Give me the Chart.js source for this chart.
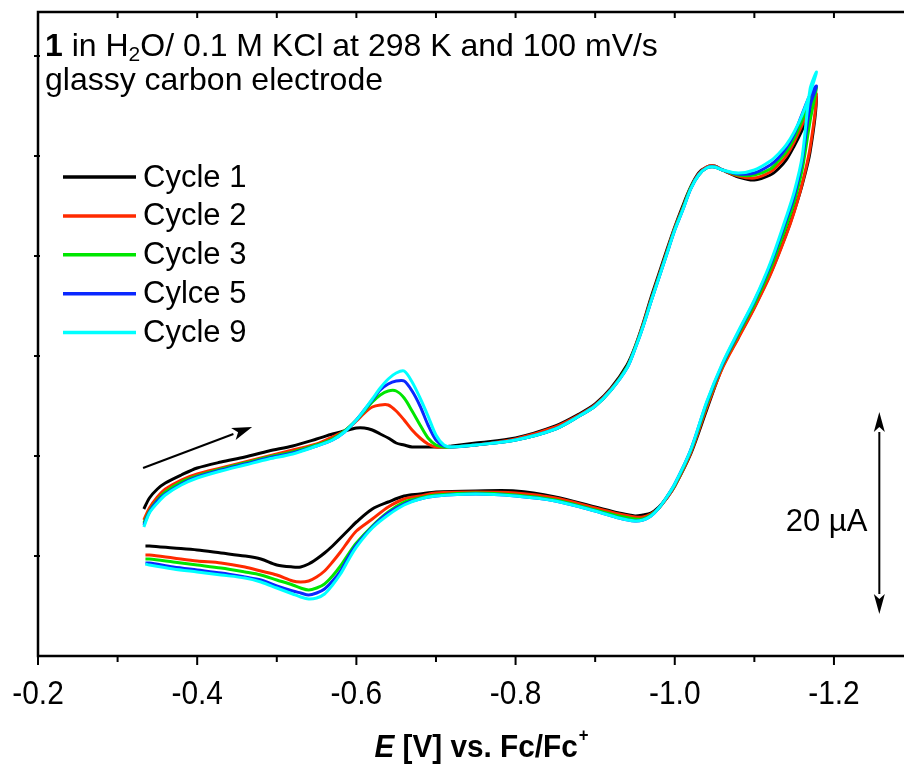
<!DOCTYPE html>
<html>
<head>
<meta charset="utf-8">
<title>CV cycles</title>
<script src="https://cdn.jsdelivr.net/npm/chart.js@4.4.1/dist/chart.umd.min.js"></script>
<style>
  html, body { margin: 0; padding: 0; background: #fff; }
  #wrap { width: 904px; height: 776px; }
</style>
</head>
<body>
<div id="wrap"><canvas id="cv" width="904" height="776"></canvas></div>
<script>
// potential grid (V vs Fc/Fc+): forward (cathodic) sweep, then the way back
const fwdE = [-0.333, -0.34, -0.35, -0.36, -0.38, -0.40, -0.43, -0.46, -0.49, -0.52,
  -0.55, -0.57, -0.585, -0.60, -0.61, -0.62, -0.63, -0.64, -0.65, -0.66,
  -0.67, -0.68, -0.69, -0.70, -0.71, -0.72, -0.75, -0.80, -0.85, -0.88,
  -0.90, -0.92, -0.94, -0.95, -0.96, -0.97, -0.98, -0.99, -1.00, -1.01,
  -1.02, -1.03, -1.04, -1.05, -1.06, -1.08, -1.10, -1.12, -1.13, -1.14,
  -1.15, -1.16, -1.17, -1.178];
const revE = [-1.17, -1.16, -1.15, -1.14, -1.12, -1.10, -1.08, -1.06, -1.04, -1.02,
  -1.00, -0.99, -0.98, -0.97, -0.96, -0.95, -0.93, -0.90, -0.85, -0.80,
  -0.75, -0.70, -0.68, -0.66, -0.64, -0.62, -0.60, -0.59, -0.58, -0.57,
  -0.56, -0.55, -0.54, -0.53, -0.52, -0.50, -0.48, -0.46, -0.43, -0.40,
  -0.37, -0.34, -0.335];

// current (uA, arbitrary offset) per cycle
const cycle1Fwd = [14.7, 15.8, 16.7, 17.3, 18.1, 18.8, 19.4, 19.9, 20.5, 21.0,
  21.7, 22.2, 22.5, 22.8, 22.8, 22.6, 22.2, 21.8, 21.3, 21.1,
  20.9, 20.9, 20.9, 20.9, 20.9, 21.0, 21.3, 21.8, 23.0, 24.2,
  25.2, 26.8, 29.1, 30.9, 33.2, 35.8, 38.2, 40.6, 42.9, 45.0,
  46.9, 48.3, 48.9, 49.0, 48.6, 47.9, 47.6, 48.1, 48.7, 49.6,
  51.0, 52.6, 54.4, 55.9];
const cycle1Rev = [50.4, 47.1, 44.5, 42.2, 38.2, 34.9, 31.9, 28.9, 24.6, 20.2,
  17.0, 15.8, 14.9, 14.3, 14.1, 14.0, 14.3, 14.9, 15.9, 16.5,
  16.5, 16.4, 16.2, 16.0, 15.4, 14.7, 13.4, 12.6, 11.8, 11.0,
  10.3, 9.7, 9.2, 8.9, 8.9, 9.1, 9.7, 10.0, 10.3, 10.6,
  10.8, 11.0, 11.0];

const cycle2Fwd = [13.6, 14.8, 15.9, 16.7, 17.6, 18.2, 18.8, 19.4, 20.0, 20.6,
  21.2, 21.9, 22.5, 23.5, 24.3, 24.9, 25.1, 25.1, 24.5, 23.6,
  22.6, 21.8, 21.2, 20.9, 20.9, 20.9, 21.1, 21.7, 22.9, 24.1,
  25.1, 26.7, 28.9, 30.8, 33.1, 35.6, 38.0, 40.4, 42.8, 44.8,
  46.8, 48.2, 48.9, 49.0, 48.6, 48.0, 47.8, 48.4, 49.1, 50.0,
  51.4, 53.1, 54.9, 56.2];
const cycle2Rev = [50.8, 47.2, 44.4, 42.1, 38.1, 34.8, 31.8, 28.8, 24.8, 20.3,
  17.0, 15.8, 14.8, 14.2, 13.9, 13.9, 14.2, 14.8, 15.8, 16.3,
  16.4, 16.3, 16.0, 15.7, 14.9, 13.7, 12.5, 11.5, 10.4, 9.4,
  8.5, 7.9, 7.5, 7.4, 7.5, 8.1, 8.5, 8.9, 9.3, 9.5,
  9.8, 10.1, 10.1];

const cycle3Fwd = [13.3, 14.5, 15.6, 16.4, 17.4, 18.0, 18.7, 19.3, 19.9, 20.4,
  21.1, 21.7, 22.5, 23.6, 24.5, 25.4, 26.1, 26.5, 26.5, 25.8,
  24.5, 23.1, 21.8, 21.1, 20.9, 20.9, 21.1, 21.6, 22.7, 24.0,
  25.0, 26.6, 28.9, 30.8, 33.0, 35.5, 37.9, 40.3, 42.7, 44.7,
  46.8, 48.1, 48.8, 48.9, 48.6, 48.1, 48.1, 48.7, 49.5, 50.4,
  51.8, 53.6, 55.5, 56.9];
const cycle3Rev = [53.5, 48.6, 45.4, 43.0, 38.7, 35.2, 32.2, 29.1, 25.1, 20.5,
  17.1, 15.9, 14.8, 14.1, 13.7, 13.7, 14.0, 14.6, 15.6, 16.1,
  16.3, 16.1, 15.8, 15.4, 14.4, 13.0, 11.3, 10.2, 9.0, 8.0,
  7.2, 6.8, 6.6, 6.8, 7.1, 7.6, 8.1, 8.4, 8.8, 9.1,
  9.4, 9.7, 9.7];

const cycle5Fwd = [13.1, 14.4, 15.5, 16.2, 17.2, 17.9, 18.6, 19.2, 19.8, 20.3,
  21.0, 21.6, 22.4, 23.6, 24.6, 25.6, 26.6, 27.2, 27.5, 27.5,
  26.5, 25.0, 23.1, 21.6, 21.0, 20.9, 21.1, 21.6, 22.7, 24.0,
  25.0, 26.6, 28.8, 30.7, 32.9, 35.4, 37.8, 40.2, 42.6, 44.6,
  46.7, 48.1, 48.8, 48.9, 48.6, 48.2, 48.3, 49.1, 49.8, 50.8,
  52.2, 54.2, 56.1, 57.0];
const cycle5Rev = [55.0, 49.5, 46.0, 43.6, 39.1, 35.5, 32.4, 29.2, 25.3, 20.6,
  17.2, 15.9, 14.8, 14.0, 13.6, 13.5, 13.8, 14.5, 15.5, 16.0,
  16.2, 16.0, 15.7, 15.2, 14.3, 12.9, 11.1, 9.9, 8.5, 7.5,
  6.7, 6.3, 6.1, 6.3, 6.5, 7.0, 7.6, 7.9, 8.3, 8.6,
  8.9, 9.3, 9.3];

const cycle9Fwd = [12.9, 14.3, 15.3, 16.1, 17.1, 17.8, 18.5, 19.1, 19.7, 20.2,
  21.0, 21.6, 22.4, 23.6, 24.6, 25.7, 26.8, 27.7, 28.3, 28.5,
  27.4, 25.8, 24.0, 22.1, 21.1, 20.9, 21.1, 21.6, 22.7, 24.0,
  25.0, 26.6, 28.8, 30.7, 32.9, 35.4, 37.8, 40.2, 42.6, 44.6,
  46.7, 48.1, 48.8, 48.9, 48.6, 48.3, 48.6, 49.5, 50.2, 51.1,
  52.4, 54.1, 56.3, 58.4];
const cycle9Rev = [56.7, 49.9, 46.4, 43.9, 39.3, 35.6, 32.5, 29.3, 25.4, 20.6,
  17.2, 15.9, 14.8, 14.0, 13.6, 13.5, 13.8, 14.5, 15.5, 16.0,
  16.2, 16.0, 15.7, 15.1, 14.1, 12.8, 10.9, 9.6, 8.2, 7.1,
  6.2, 5.8, 5.7, 5.9, 6.2, 6.8, 7.4, 7.8, 8.1, 8.4,
  8.7, 9.1, 9.2];

const cycleLabels = ['Cycle 1', 'Cycle 2', 'Cycle 3', 'Cylce 5', 'Cycle 9'];
const cycleColors = ['#000000', '#ff2a00', '#00e600', '#0a28ff', '#00ffff'];
const cycleFwd = [cycle1Fwd, cycle2Fwd, cycle3Fwd, cycle5Fwd, cycle9Fwd];
const cycleRev = [cycle1Rev, cycle2Rev, cycle3Rev, cycle5Rev, cycle9Rev];

const xMajor = [-0.2, -0.4, -0.6, -0.8, -1.0, -1.2];
const xMinor = [-0.3, -0.5, -0.7, -0.9, -1.1];
const yTicks = [10, 20, 30, 40, 50, 60];

// sweep direction arrow and 20 uA scale bar, in data units
const sweepArrow = { from: [-0.332, 18.8], to: [-0.469, 22.9] };
const scaleBar = { e: -1.257, lo: 4.2, hi: 24.4, label: '20 \u00b5A' };

function toPoints(fwd, rev) {
  const pts = fwdE.map((e, i) => ({ x: e, y: fwd[i] }));
  return pts.concat(revE.map((e, i) => ({ x: e, y: rev[i] })));
}

function arrowLine(ctx, x1, y1, x2, y2, head, half) {
  const ang = Math.atan2(y2 - y1, x2 - x1);
  const bx = x2 - head * Math.cos(ang), by = y2 - head * Math.sin(ang);
  ctx.beginPath();
  ctx.moveTo(x1, y1);
  ctx.lineTo(bx, by);
  ctx.stroke();
  ctx.beginPath();
  ctx.moveTo(x2, y2);
  ctx.lineTo(bx + half * Math.sin(ang), by - half * Math.cos(ang));
  ctx.lineTo(x2 - head * 0.75 * Math.cos(ang), y2 - head * 0.75 * Math.sin(ang));
  ctx.lineTo(bx - half * Math.sin(ang), by + half * Math.cos(ang));
  ctx.closePath();
  ctx.fill();
}

// condensed text: draw with a horizontal squeeze
function squeezed(ctx, text, x, y, sx) {
  ctx.save();
  ctx.translate(x, y);
  ctx.scale(sx, 1);
  ctx.fillText(text, 0, 0);
  ctx.restore();
}

const SANS = '"Liberation Sans", Arial, sans-serif';

// frame, ticks, labels, legend and notes
const decorations = {
  id: 'decorations',
  afterDraw(chart) {
    const { ctx, chartArea: a, scales: { x, y } } = chart;
    ctx.save();
    ctx.strokeStyle = '#000';
    ctx.fillStyle = '#000';

    // frame (right side is cut off in the original)
    ctx.lineWidth = 2.5;
    ctx.beginPath();
    ctx.moveTo(a.right, a.top);
    ctx.lineTo(a.left, a.top);
    ctx.lineTo(a.left, a.bottom);
    ctx.lineTo(a.right, a.bottom);
    ctx.stroke();

    // ticks
    ctx.lineWidth = 2;
    ctx.beginPath();
    xMajor.forEach(v => {
      const px = x.getPixelForValue(v);
      ctx.moveTo(px, a.bottom); ctx.lineTo(px, a.bottom + 9);
      if (v !== -0.2) { ctx.moveTo(px, a.top); ctx.lineTo(px, a.top + 6); }
    });
    xMinor.forEach(v => {
      const px = x.getPixelForValue(v);
      ctx.moveTo(px, a.bottom); ctx.lineTo(px, a.bottom + 6);
      ctx.moveTo(px, a.top); ctx.lineTo(px, a.top + 6);
    });
    yTicks.forEach(v => {
      const py = y.getPixelForValue(v);
      ctx.moveTo(a.left - 4, py); ctx.lineTo(a.left + 2, py);
    });
    ctx.stroke();

    // tick labels
    ctx.font = '34px ' + SANS;
    ctx.textAlign = 'center';
    ctx.textBaseline = 'alphabetic';
    xMajor.forEach(v => {
      squeezed(ctx, v.toFixed(1), x.getPixelForValue(v), 704, 0.88);
    });

    // axis title: E [V] vs. Fc/Fc+
    const sq = 0.93;
    const t1 = 'E', t2 = ' [V] vs. Fc/Fc', t3 = '+';
    ctx.textAlign = 'left';
    ctx.font = 'italic bold 32px ' + SANS;
    const w1 = ctx.measureText(t1).width * sq;
    ctx.font = 'bold 32px ' + SANS;
    const w2 = ctx.measureText(t2).width * sq;
    ctx.font = 'bold 18px ' + SANS;
    const w3 = ctx.measureText(t3).width * sq;
    let tx = 481 - (w1 + w2 + w3) / 2;
    const ty = 757;
    ctx.font = 'italic bold 32px ' + SANS;
    squeezed(ctx, t1, tx, ty, sq); tx += w1;
    ctx.font = 'bold 32px ' + SANS;
    squeezed(ctx, t2, tx, ty, sq); tx += w2;
    ctx.font = 'bold 18px ' + SANS;
    squeezed(ctx, t3, tx + 1, ty - 16, sq);

    // header text
    let hx = a.left + 7;
    const hy = a.top + 44;
    ctx.font = 'bold 32px ' + SANS;
    ctx.fillText('1', hx, hy); hx += ctx.measureText('1').width;
    ctx.font = '32px ' + SANS;
    ctx.fillText(' in H', hx, hy); hx += ctx.measureText(' in H').width;
    ctx.font = '21px ' + SANS;
    ctx.fillText('2', hx, hy + 5); hx += ctx.measureText('2').width;
    ctx.font = '32px ' + SANS;
    ctx.fillText('O/ 0.1 M KCl at 298 K and 100 mV/s', hx, hy);
    ctx.fillText('glassy carbon electrode', a.left + 7, hy + 34);

    // legend
    ctx.font = '31px ' + SANS;
    ctx.textBaseline = 'middle';
    cycleLabels.forEach((lab, i) => {
      const ly = 177 + i * 38.9;
      ctx.strokeStyle = cycleColors[i];
      ctx.lineWidth = 3.5;
      ctx.beginPath();
      ctx.moveTo(63, ly); ctx.lineTo(136, ly);
      ctx.stroke();
      ctx.fillStyle = '#000';
      ctx.fillText(lab, 143, ly + 1);
    });

    // sweep arrow
    ctx.strokeStyle = '#000';
    ctx.fillStyle = '#000';
    ctx.lineWidth = 2;
    arrowLine(ctx,
      x.getPixelForValue(sweepArrow.from[0]), y.getPixelForValue(sweepArrow.from[1]),
      x.getPixelForValue(sweepArrow.to[0]), y.getPixelForValue(sweepArrow.to[1]), 20, 6.5);

    // 20 uA scale bar
    const sx = x.getPixelForValue(scaleBar.e);
    const sTop = y.getPixelForValue(scaleBar.hi), sBot = y.getPixelForValue(scaleBar.lo);
    const sMid = (sTop + sBot) / 2;
    arrowLine(ctx, sx, sMid, sx, sTop, 20, 5.5);
    arrowLine(ctx, sx, sMid, sx, sBot, 20, 5.5);
    ctx.font = '31px ' + SANS;
    ctx.textAlign = 'right';
    ctx.fillText(scaleBar.label, sx - 12, sMid + 9);

    ctx.restore();
  }
};

new Chart(document.getElementById('cv'), {
  type: 'line',
  data: {
    datasets: cycleLabels.map((lab, i) => ({
      label: lab,
      data: toPoints(cycleFwd[i], cycleRev[i]),
      borderColor: cycleColors[i],
      backgroundColor: cycleColors[i],
      borderWidth: 3,
      pointRadius: 0,
      tension: 0.3,
      fill: false,
      order: cycleLabels.length - i   // cycle 9 ends up on top
    }))
  },
  options: {
    responsive: false,
    animation: false,
    devicePixelRatio: 1,
    layout: { padding: { left: 38, top: 12, right: 0, bottom: 120 } },
    plugins: { legend: { display: false }, tooltip: { enabled: false } },
    scales: {
      x: { type: 'linear', reverse: true, min: -1.288, max: -0.2, display: false },
      y: { type: 'linear', min: 0, max: 64.4, display: false }
    }
  },
  plugins: [decorations]
});
</script>
</body>
</html>
